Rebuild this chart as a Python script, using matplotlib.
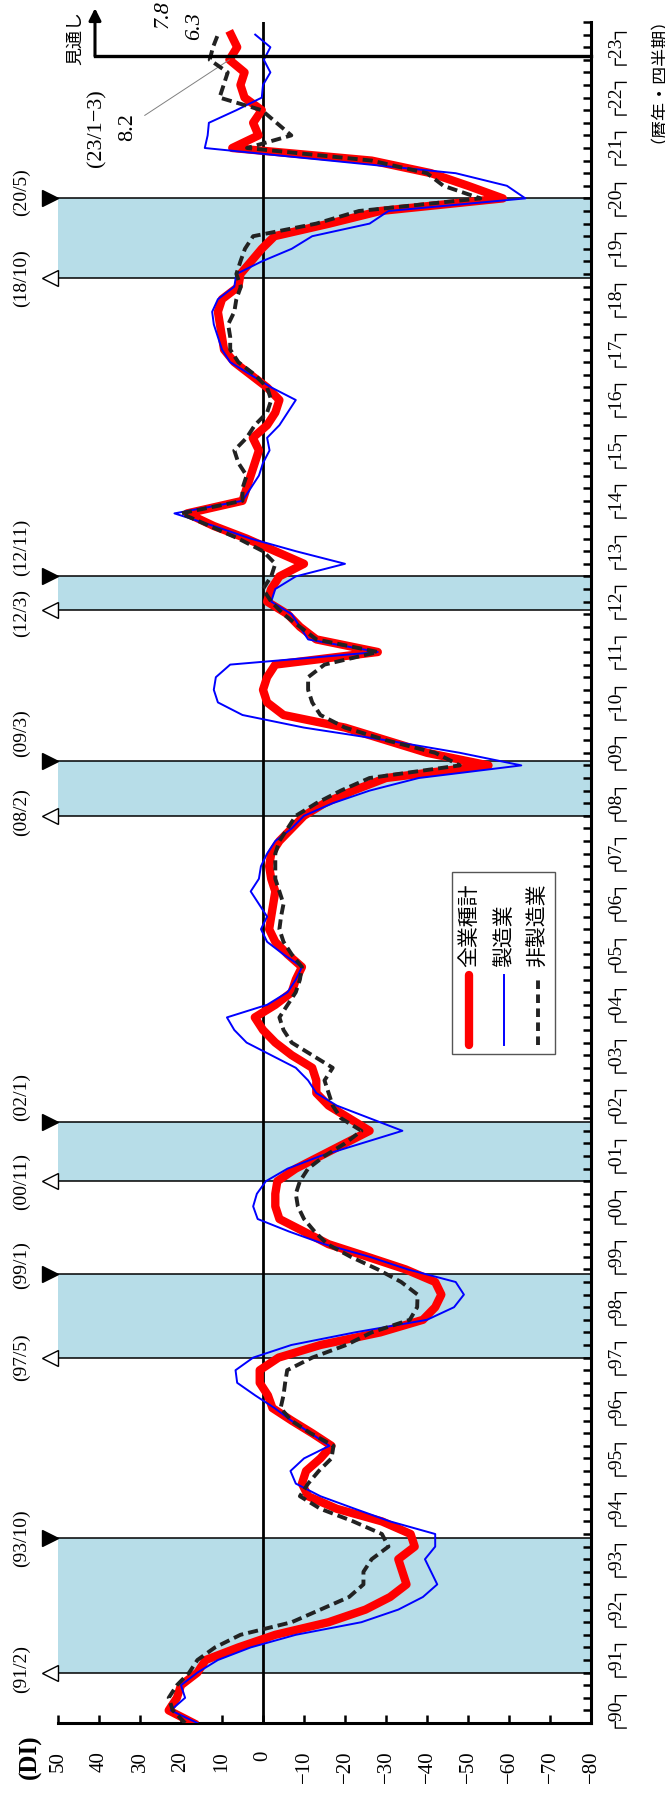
import numpy as np
import matplotlib
matplotlib.use("Agg")
import matplotlib.pyplot as plt
import matplotlib.transforms as mtransforms
from matplotlib.patches import Rectangle
from matplotlib.lines import Line2D

# quarterly DI, 1990 Q1 .. 2023 Q3 (last two = outlook)
all_industries = [
    17, 23, 21, 20,   16, 14, 6, -3,   -16, -25, -31, -35,   -34, -33, -37, -36,
    -29, -18, -11, -9.5,   -10.5, -14, -16.7, -12,   -7, -2.3, -1.2, 0.8,
    0.8, -3.8, -14, -28.6,   -39, -42, -43.5, -42,   -34.8, -25.5, -16, -10,
    -4, -3, -3, -3.5,   -8, -14, -20, -26,   -21, -16, -13, -13,
    -12, -7, -3, 0,   2, -3, -7, -8,   -9.5, -6, -3, -1.5,   -2, -2.5, -3, -2,
    -1.5, -2, -4, -7,   -10, -15, -22, -30,   -55, -40, -30, -20,
    -5, -1, 0, -1,   -3, -28, -13, -9,   -6, -1, -2, -4,   -10, -3, 4, 12,
    18.5, 5, 4, 3,   2, 1, 2.5, -1,   -3, -4, -1, 3,   7, 9.5, 10, 10.5,
    11, 10, 6, 5.5,   2.9, 0.3, -2.8, -16.2,   -28.6, -58.5, -50, -41,
    -26.5, 7.5, 1.1, 2.4,   0.3, 4.5, 5.5, 4.5,   8.2, 6.3, 7.8,
]
manufacturing = [
    16, 22.5, 19, 20,   16, 11, 3, -8,   -24, -33, -39, -42.5,   -41, -39.5, -42, -42,
    -31, -22.4, -14, -8,   -6.7, -10, -16.2, -11.6,   -6.9, -2.8, 1.9, 6.3,
    6.7, 2.4, -6.9, -22.4,   -40, -46.6, -49, -47,   -35.3, -26, -15, -6.4,
    1.3, 2.4, 1.5, -0.7,   -6, -14, -24, -34,   -26, -18, -13, -11,
    -8, -2, 4, 7,   8.8, -1, -6, -8,   -9.5, -5, -1, 0.5,   -1, 1, 3, 1,
    0.5, -1, -3, -7,   -10, -17, -26, -38,   -63, -48, -30, -10,
    5, 11, 12, 11.5,   8, -28, -11, -9,   -7, -2, -3, -8,   -20, -8, 3, 12,
    21.6, 5, 3, 1,   0, -1.6, -1, -4,   -6, -8, -2, 3,   8, 10, 11, 12,
    12.4, 11, 7, 6.5,   0.3, -7, -12, -26,   -30.6, -64, -59.5, -47,
    -16.5, 14.2, 13.5, 13.2,   6.5, 0.3, 0, -1.8,   -0.2, -1.8, 1.9,
]
non_manufacturing = [
    19, 22, 23, 21,   18, 16, 11.7, 5.5,   -7, -14, -21, -24.5,   -24.5, -26.5, -30.6, -29,
    -22, -14, -9, -11,   -13.6, -16.7, -17.2, -11.6,   -6.9, -4.3, -5, -5.4,
    -5.9, -12, -20.3, -26.5,   -35.8, -37.6, -37.7, -33.7,   -28, -21.4, -15.7, -12.6,
    -10, -8.5, -8, -9,   -11, -15, -20, -24,   -19, -17, -16, -15,
    -17, -12, -7, -5,   -4, -6, -8, -9,   -9.5, -7, -5, -4,   -4.4, -5, -4, -3,
    -3, -3, -4, -6,   -8, -13, -19, -26,   -48, -42, -30, -20,
    -14, -12, -11, -11,   -15, -28, -13, -9,   -5, -2, 0, -2,   -3, 0, 6, 13,
    20, 5, 5, 4,   6, 7, 4, 2,   -1, -2, -1, 2,   6, 8, 8, 8.5,
    7, 6.5, 5.4, 6.5,   5.5, 4.4, 2.4, -13,   -23.4, -53, -44, -40,
    -26.5, 3.9, -6.9, -3.3,   0.3, 10.6, 9.6, 8.6,   13, 12.2, 11,
]
series_names = ["全業種計", "製造業", "非製造業"]

# business cycle peaks / troughs (year, month)
peaks = [(1991, 2), (1997, 5), (2000, 11), (2008, 2), (2012, 3), (2018, 10)]
troughs = [(1993, 10), (1999, 1), (2002, 1), (2009, 3), (2012, 11), (2020, 5)]
first_year = 1990
last_year = 2023
outlook_start = 132.3
di_ticks = list(range(-80, 51, 10))

# label nudges (in quarters) so close dates do not collide
peak_shift = [0.3, 0, 0, 0.3, -0.2, 0]
trough_shift = [0, 0.7, 2.0, 2.2, 2.3, 0.5]


def to_q(y, m):
    return 4 * (y - first_year) + (m - 2) / 3


plt.rcParams["font.family"] = ["Liberation Serif", "Noto Sans CJK JP", "DejaVu Sans"]

fig = plt.figure(figsize=(6.65, 17.98), dpi=100)
ax = fig.add_axes([58 / 665, 75 / 1798, 533 / 665, 1701 / 1798])
ax.set_xlim(50, -80)
ax.set_ylim(0, 135)
blend = mtransforms.blended_transform_factory(ax.transAxes, ax.transData)

# recession bands
for (py, pm), (ty, tm), ps, ts in zip(peaks, troughs, peak_shift, trough_shift):
    p, t = to_q(py, pm), to_q(ty, tm)
    ax.axhspan(p, t, color="#b7dde8", lw=0, zorder=0)
    for q, filled, lab, sh in [(p, False, (py, pm), ps), (t, True, (ty, tm), ts)]:
        ax.plot([-0.002, 1], [q, q], transform=blend, color="black", lw=1.1,
                clip_on=False, zorder=1)
        ax.plot(-0.015, q, transform=blend, marker=">" if filled else "<",
                ms=12, mfc="black" if filled else "white", mec="black",
                mew=1, clip_on=False)
        ax.text(-0.069, q + sh, f"({lab[0] % 100:02d}/{lab[1]})", transform=blend,
                rotation=90, ha="center", va="center", fontsize=14)

ax.axvline(0, color="black", lw=2, zorder=2)

q = np.arange(len(all_industries))
ax.plot(all_industries, q, color="#ff0000", lw=6, zorder=3, solid_joinstyle="round")
ax.plot(manufacturing, q, color="#0000ff", lw=1.4, zorder=4)
ax.plot(non_manufacturing, q, color="#222222", lw=2.8, ls=(0, (2.6, 1.3)), zorder=5)

# outlook marker
ax.plot([0.0694, 1], [outlook_start, outlook_start], transform=blend,
        color="black", lw=2.4, zorder=6, clip_on=False)
ax.annotate("", xy=(0.0694, 136.1), xytext=(0.0694, outlook_start),
            xycoords=blend, textcoords=blend, annotation_clip=False,
            arrowprops=dict(arrowstyle="-|>", color="black", lw=2.2,
                            mutation_scale=18, shrinkA=0, shrinkB=0))
ax.text(0.032, 133.7, "見通し", transform=blend, rotation=90, ha="center",
        va="center", fontsize=13, family=["Noto Sans CJK JP"])

# value labels
n = len(all_industries)
ax.annotate(f"{all_industries[n - 3]:.1f}", xy=(all_industries[n - 3], n - 3),
            xytext=(33, 126.7), rotation=90, ha="center", va="center",
            fontsize=16, arrowprops=dict(arrowstyle="-", color="gray", lw=0.7,
                                         shrinkA=4, shrinkB=0))
ax.text(40.5, 126.6, "(23/1−3)", rotation=90, ha="center", va="center", fontsize=16)
ax.text(24.4, 135.6, f"{all_industries[n - 1]:.1f}", rotation=90, ha="center",
        va="center", fontsize=16, style="italic", clip_on=False)
ax.text(16.6, 134.7, f"{all_industries[n - 2]:.1f}", rotation=90, ha="center",
        va="center", fontsize=16, style="italic", clip_on=False)

# axes
for s in ["top", "left"]:
    ax.spines[s].set_visible(False)
for s in ["bottom", "right"]:
    ax.spines[s].set_linewidth(2.2)
ax.set_xticks(di_ticks)
ax.set_xticklabels([str(v).replace("-", "−") for v in di_ticks])
ax.tick_params(axis="x", direction="in", length=6, width=1.8, pad=20,
               labelsize=15, labelrotation=90)
ax.yaxis.tick_right()
ax.set_yticks(np.arange(1, 136))
ax.tick_params(axis="y", direction="in", length=6, width=1.8, labelright=False)

for i, yr in enumerate(range(first_year, last_year + 1)):
    ax.text(1.039, 4 * i + 1.5, f"┌{yr % 100:02d}┐", transform=blend, rotation=90,
            ha="center", va="center", fontsize=14,
            family=["Liberation Serif", "DejaVu Sans"])
ax.text(1.11, 131.1, "（暦年・四半期）", transform=blend, rotation=90,
        ha="center", va="center", fontsize=13, family=["Noto Sans CJK JP"])
ax.text(-0.0525, -0.02, "(DI)", transform=ax.transAxes, rotation=90,
        ha="center", va="center", fontsize=18, fontweight="bold")

# legend (rotated by hand)
ax.add_patch(Rectangle((0.7392, 0.3933), 0.1933, 0.107, transform=ax.transAxes,
                       fill=True, fc="white", ec="#555555", lw=1, zorder=7))
styles = [dict(color="#ff0000", lw=6, solid_capstyle="round"),
          dict(color="#0000ff", lw=1.4),
          dict(color="#222222", lw=2.8, ls=(0, (2.2, 1.4)))]
for xa, name, st in zip([0.771, 0.8368, 0.9006], series_names, styles):
    ax.add_line(Line2D([xa, xa], [0.3986, 0.4397], transform=ax.transAxes,
                       zorder=8, **st))
    ax.text(xa, 0.4444, name, transform=ax.transAxes, rotation=90, ha="center",
            va="bottom", fontsize=15, family=["Noto Sans CJK JP"], zorder=8)

fig.savefig("out.png", dpi=100)
